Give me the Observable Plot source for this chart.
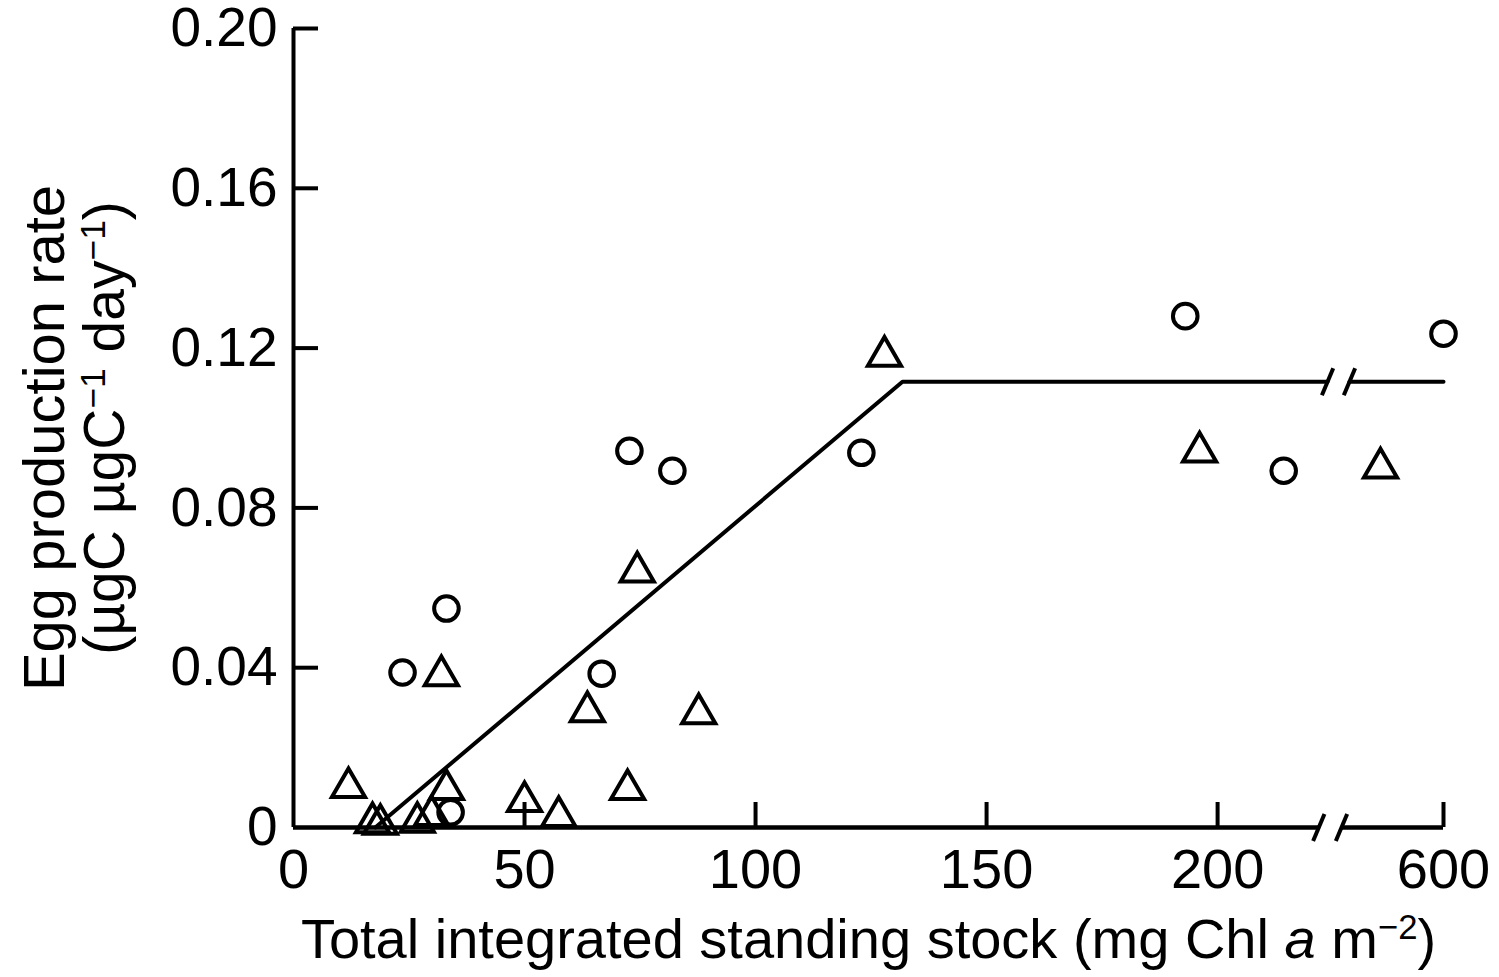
<!DOCTYPE html>
<html>
<head>
<meta charset="utf-8">
<script src="https://cdn.jsdelivr.net/npm/d3@7"></script>
<script src="https://cdn.jsdelivr.net/npm/@observablehq/plot@0.6"></script>
<style>
  html, body { margin: 0; padding: 0; background: #fff; }
</style>
</head>
<body>
<div id="chart"></div>
<script>
// ---- Data (x in mg Chl a m^-2, y in µgC µgC^-1 day^-1) ----
const circleX = [23.6, 33.1, 34.0, 66.7, 72.7, 82.0, 122.9, 193.0, 214.3, 600];
const circleY = [0.0388, 0.0548, 0.0038, 0.0385, 0.0943, 0.0893, 0.0938, 0.128, 0.0893, 0.1236];

const triangleX = [11.9, 17.1, 18.8, 26.8, 29.9, 33.1, 32.0, 50.0, 57.4, 72.3, 63.6, 74.4, 87.7, 127.9, 196.1, 394];
const triangleY = [0.010, 0.0012, 0.0008, 0.0013, 0.003, 0.0095, 0.038, 0.0065, 0.0028, 0.0095, 0.029, 0.064, 0.0285, 0.118, 0.094, 0.090];

// fitted broken-stick line
const fitX = [17.7, 131.8, 223.8];
const fitY = [0, 0.1116, 0.1116];
const fitX2 = [292.6, 600];
const fitY2 = [0.1116, 0.1116];

// axis ticks & labels
const xTicks = [0, 50, 100, 150, 200, 600];
const xTickLabels = ["0", "50", "100", "150", "200", "600"];
const yTicks = [0, 0.04, 0.08, 0.12, 0.16, 0.20];
const yTickLabels = ["0", "0.04", "0.08", "0.12", "0.16", "0.20"];

// axis break (x-axis pieces)
const axisPieces = [[0, 221.9], [266.5, 600]];
const axisBreaks = [221.9, 266.5];
const lineBreaks = [223.8, 292.6];
const fitLevel = 0.1116;

const xLabel = "Total integrated standing stock (mg Chl a m⁻²)";
const yLabel1 = "Egg production rate";
const yLabel2 = "(µgC µgC⁻¹ day⁻¹)";

// broken x axis: linear up to 224, compressed beyond
const BREAK_AT = 224;
const COMPRESS = (115 / 4.62) / (600 - BREAK_AT);
const brk = v => v <= BREAK_AT ? v : BREAK_AT + (v - BREAK_AT) * COMPRESS;

// ---- build ----
const circles = circleX.map((x, i) => ({x, y: circleY[i]}));
const triangles = triangleX.map((x, i) => ({x, y: triangleY[i]}));
const fit = [
  ...fitX.map((x, i) => ({x, y: fitY[i], seg: "a"})),
  ...fitX2.map((x, i) => ({x, y: fitY2[i], seg: "b"}))
];

const slash = {
  draw(context, size) {
    const r = Math.sqrt(size / Math.PI);
    context.moveTo(-0.42 * r, r);
    context.lineTo(0.42 * r, -r);
  }
};

const FONT = "Liberation Sans, Arial, sans-serif";
const FS = 56;
const W = 1499, H = 977;
const mL = 293, mR = 56, mT = 28, mB = 150;
const frameW = W - mL - mR, frameH = H - mT - mB;
const tickLen = 25;

const chart = Plot.plot({
  width: W,
  height: H,
  marginLeft: mL,
  marginRight: mR,
  marginTop: mT,
  marginBottom: mB,
  style: {fontFamily: FONT, fontSize: FS + "px", color: "black", background: "white"},
  x: {transform: brk, axis: null},
  y: {domain: [0, 0.2], axis: null},
  marks: [
    // axes text
    Plot.axisX(xTicks, {tickSize: 0, tickPadding: 21, fontSize: FS, tickFormat: d => xTickLabels[xTicks.findIndex(t => brk(t) === d || t === d)], label: null}),
    Plot.axisY(yTicks, {tickSize: 0, tickPadding: 16, fontSize: 55, tickFormat: d => yTickLabels[yTicks.indexOf(d)], label: null}),
    // inward tick marks
    Plot.tickY(yTicks.slice(1), {y: d => d, insetRight: frameW - tickLen, strokeWidth: 4}),
    Plot.tickX(xTicks.slice(1), {x: d => d, insetTop: frameH - tickLen, strokeWidth: 4}),
    // axis lines
    Plot.ruleX([0], {y1: () => 0, y2: () => 0.2, strokeWidth: 4}),
    Plot.ruleY(axisPieces, {x1: d => d[0], x2: d => d[1], y: () => 0, strokeWidth: 4.5}),
    Plot.dot(axisBreaks, {x: d => d, y: () => 0, symbol: slash, r: 13.5, stroke: "black", fill: "none", strokeWidth: 4}),
    // fit line
    Plot.line(fit, {x: "x", y: "y", z: "seg", stroke: "black", strokeWidth: 4}),
    Plot.dot(lineBreaks, {x: d => d, y: () => fitLevel, symbol: slash, r: 13.5, stroke: "black", fill: "none", strokeWidth: 4}),
    // data
    Plot.dot(circles, {x: "x", y: "y", symbol: "circle", r: 12.3, stroke: "black", fill: "none", strokeWidth: 4}),
    Plot.dot(triangles, {x: "x", y: "y", symbol: "triangle", r: 12.3, stroke: "black", fill: "none", strokeWidth: 4, strokeLinejoin: "miter"}),
    // axis titles
    Plot.text([xLabel], {text: d => d, frameAnchor: "bottom", dy: 113, fontSize: FS, lineAnchor: "middle", className: "xlab"}),
    Plot.text([yLabel1], {text: d => d, frameAnchor: "left", textAnchor: "middle", rotate: -90, dx: -248, dy: 10, fontSize: 58, lineAnchor: "middle", className: "ylab1"}),
    Plot.text([yLabel2], {text: d => d, frameAnchor: "left", textAnchor: "middle", rotate: -90, dx: -188, fontSize: 57, lineAnchor: "middle", className: "ylab2"})
  ]
});

document.getElementById("chart").appendChild(chart);

// rich text: italic "a" and superscripts
function rich(sel, parts) {
  const t = d3.select(chart).select(sel).select("text");
  if (t.empty()) return;
  t.text(null);
  parts.forEach(p => {
    const ts = t.append("tspan").text(p.t);
    if (p.i) ts.attr("font-style", "italic");
    if (p.sup) ts.attr("baseline-shift", "super").attr("font-size", "0.62em");
  });
}
rich(".xlab", [{t: "Total integrated standing stock (mg Chl "}, {t: "a", i: true}, {t: " m"}, {t: "−2", sup: true}, {t: ")"}]);
rich(".ylab2", [{t: "(µgC µgC"}, {t: "−1", sup: true}, {t: " day"}, {t: "−1", sup: true}, {t: ")"}]);
</script>
</body>
</html>
